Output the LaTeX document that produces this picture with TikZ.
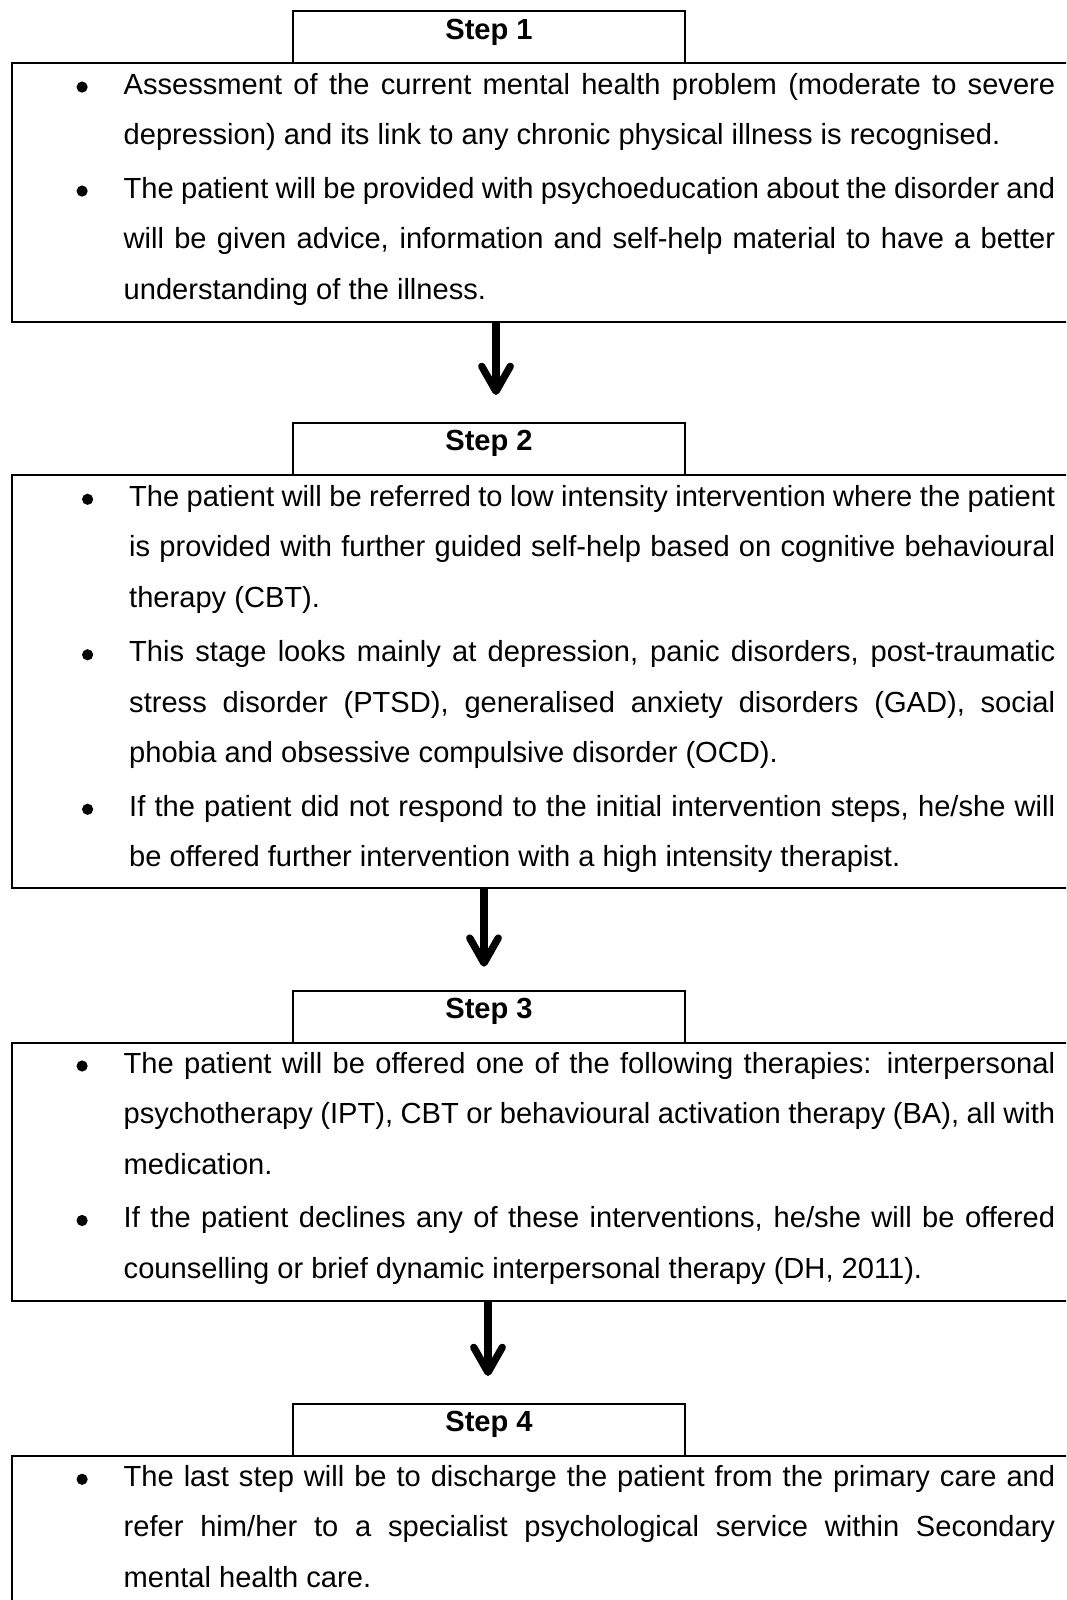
\documentclass[tikz,border=0pt]{standalone}
\usepackage{fontspec}
\setmainfont{Liberation Sans}
\usetikzlibrary{positioning}
\usetikzlibrary{arrows.meta}

\newcommand\stepdot{\llap{\tikz[baseline=-7.2pt]\fill (0,0) circle (5.6pt);\hskip36pt}}
\newcommand\jline[1]{\hbox to \hsize{#1}}
\newcommand\eline[1]{\hbox to \hsize{#1\hfil}}

\begin{document}
\begin{tikzpicture}[x=1pt, y=1pt,
    stepframe/.style={draw, line width=1.8pt, inner sep=0pt, outer sep=0pt, minimum width=1100pt, anchor=north west},
    steptitle/.style={draw, line width=1.8pt, inner sep=0pt, outer sep=0pt, minimum width=392pt,
        text height=28pt, text depth=24pt, font=\bfseries\fontsize{29.1}{34}\selectfont},
    stepbody/.style={inner sep=0pt, anchor=base west, font=\fontsize{29.1}{50.5}\selectfont},
    steparrow/.style={line width=7.3pt, -{Straight Barb[round, length=25pt, width=28.5pt]}}]
    \useasboundingbox (0,0) rectangle (1066,1600);
    \clip (0,0) rectangle (1066,1600);

    % Step 1
    \node[stepframe, minimum height=258.7pt] (box1) at (11.7,1536.7) {};
    \node[steptitle, above right=0pt and 281.3pt of box1.north west] (step1) {Step 1};
    \node[stepbody] (text1) at ([xshift=111.8pt, yshift=-31pt]box1.north west) {\vtop{\hsize=931.5pt
        \jline{\stepdot Assessment of the current mental health problem (moderate to severe}
        \eline{depression) and its link to any chronic physical illness is recognised.}
        \vskip3pt
        \jline{\stepdot The patient will be provided with psychoeducation about the disorder and}
        \jline{will be given advice, information and self-help material to have a better}
        \eline{understanding of the illness.}}};

    % Step 2
    \node[steptitle, below right=101pt and 281.3pt of box1.south west] (step2) {Step 2};
    \node[stepframe, minimum height=412.7pt] (box2) at ([xshift=-281.3pt]step2.south west) {};
    \node[stepbody] (text2) at ([xshift=117.3pt, yshift=-31.5pt]box2.north west) {\vtop{\hsize=926pt
        \jline{\stepdot The patient will be referred to low intensity intervention where the patient}
        \jline{is provided with further guided self-help based on cognitive behavioural}
        \eline{therapy (CBT).}
        \vskip4pt
        \jline{\stepdot This stage looks mainly at depression, panic disorders, post-traumatic}
        \jline{stress disorder (PTSD), generalised anxiety disorders (GAD), social}
        \eline{phobia and obsessive compulsive disorder (OCD).}
        \vskip3pt
        \jline{\stepdot If the patient did not respond to the initial intervention steps, he/she will}
        \eline{be offered further intervention with a high intensity therapist.}}};

    % Step 3
    \node[steptitle, below right=103pt and 281.3pt of box2.south west] (step3) {Step 3};
    \node[stepframe, minimum height=258.3pt] (box3) at ([xshift=-281.3pt]step3.south west) {};
    \node[stepbody] (text3) at ([xshift=111.8pt, yshift=-30.5pt]box3.north west) {\vtop{\hsize=931.5pt
        \jline{\stepdot The patient will be offered one of the following therapies: interpersonal}
        \jline{psychotherapy (IPT), CBT or behavioural activation therapy (BA), all with}
        \eline{medication.}
        \vskip3pt
        \jline{\stepdot If the patient declines any of these interventions, he/she will be offered}
        \eline{counselling or brief dynamic interpersonal therapy (DH, 2011).}}};

    % Step 4
    \node[steptitle, below right=103pt and 281.3pt of box3.south west] (step4) {Step 4};
    \node[stepframe, minimum height=300pt] (box4) at ([xshift=-281.3pt]step4.south west) {};
    \node[stepbody] (text4) at ([xshift=111.8pt, yshift=-30.5pt]box4.north west) {\vtop{\hsize=931.5pt
        \jline{\stepdot The last step will be to discharge the patient from the primary care and}
        \jline{refer him/her to a specialist psychological service within Secondary}
        \eline{mental health care.}}};

    % arrows
    \coordinate (tip1) at ([xshift=7pt, yshift=28pt]step2.north);
    \coordinate (tip2) at ([xshift=-5pt, yshift=24pt]step3.north);
    \coordinate (tip3) at ([xshift=-1pt, yshift=28pt]step4.north);
    \draw[steparrow] (box1.south -| tip1) -- (tip1);
    \draw[steparrow] (box2.south -| tip2) -- (tip2);
    \draw[steparrow] (box3.south -| tip3) -- (tip3);
\end{tikzpicture}
\end{document}
